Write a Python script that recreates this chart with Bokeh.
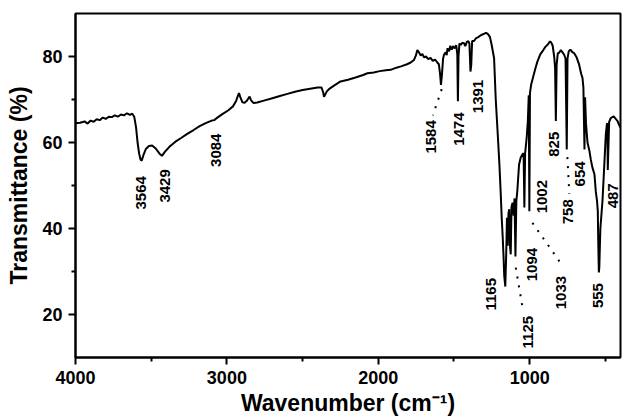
from bokeh.plotting import figure
from bokeh.models import Range1d, FixedTicker, ColumnDataSource
from bokeh.embed import file_html
from bokeh.resources import INLINE
from bokeh.core.properties import value
import math

# FTIR spectrum (wavenumber in cm-1, transmittance in %)
wavenumber = [
    4000, 3970, 3940, 3920, 3900, 3880, 3860, 3840, 3820, 3800, 3780, 3760, 3740, 3720,
    3700, 3680, 3660, 3640, 3625, 3612, 3600, 3590, 3580, 3570, 3562, 3550, 3535, 3515,
    3494, 3470, 3445, 3429, 3410, 3380, 3340, 3300, 3262, 3220, 3180, 3140, 3100, 3084,
    3070, 3030, 2990, 2960, 2940, 2928, 2920, 2912, 2898, 2885, 2868, 2850, 2840, 2825,
    2800, 2750, 2700, 2650, 2600, 2550, 2500, 2450, 2400, 2375, 2365, 2358, 2350, 2340,
    2326, 2290, 2249, 2200, 2150, 2100, 2072, 2030, 1990, 1950, 1918, 1880, 1850, 1810,
    1786, 1764, 1752, 1742, 1730, 1720, 1709, 1698, 1685, 1670, 1655, 1640, 1625, 1610,
    1600, 1592, 1586, 1580, 1572, 1566, 1555, 1548, 1543, 1532, 1524, 1515, 1505, 1495,
    1485, 1478, 1474, 1470, 1464, 1455, 1445, 1434, 1425, 1415, 1405, 1398, 1391, 1386,
    1380, 1367, 1356, 1340, 1320, 1300, 1288, 1275, 1262, 1250, 1235, 1224, 1211, 1200,
    1191, 1184, 1178, 1172, 1168, 1161, 1155, 1150, 1145, 1140, 1135, 1130, 1125, 1120,
    1113, 1106, 1100, 1094, 1088, 1081, 1070, 1059, 1048, 1040, 1035, 1030, 1020, 1012,
    1006, 1002, 998, 990, 975, 960, 949, 930, 910, 895, 880, 866, 858, 848, 838, 832,
    827, 822, 814, 806, 794, 784, 772, 763, 755, 750, 742, 735, 728, 718, 707, 690,
    673, 660, 651, 645, 638, 634, 628, 618, 605, 596, 585, 572, 563, 555, 550, 547,
    543, 540, 533, 519, 508, 497, 490, 487, 484, 475, 464, 445, 420, 400,
]
transmittance = [
    64.5, 64.6, 64.9, 64.4, 65.1, 64.8, 65.4, 65.2, 65.8, 65.5, 66.0, 65.9, 66.3, 66.0,
    66.5, 66.3, 66.8, 66.4, 66.7, 66.0, 63.5, 60.0, 57.5, 56.0, 55.8, 57.2, 58.5, 59.2,
    59.3, 58.6, 57.4, 56.9, 57.8, 59.0, 60.2, 61.1, 62.0, 62.9, 63.8, 64.5, 65.1, 65.2,
    65.6, 66.6, 67.5, 68.4, 69.6, 70.8, 71.5, 70.6, 69.4, 69.2, 69.7, 70.7, 69.8, 69.2,
    69.3, 69.8, 70.3, 70.8, 71.3, 71.8, 72.2, 72.5, 72.8, 72.8, 71.8, 70.6, 71.2, 71.9,
    72.4, 73.3, 74.2, 74.6, 75.1, 75.7, 76.1, 76.3, 76.6, 76.8, 76.9, 77.4, 77.7, 78.2,
    78.6, 79.2, 80.2, 81.5, 80.9, 80.2, 80.6, 79.8, 80.0, 79.4, 79.7, 79.0, 79.3, 78.6,
    78.2, 76.0, 73.4, 75.5, 79.5, 80.4, 81.0, 80.3, 81.9, 81.2, 82.5, 81.6, 82.4, 81.9,
    82.6, 80.5, 69.6, 80.0, 83.0, 82.7, 83.2, 83.1, 82.4, 83.4, 83.6, 83.0, 76.5, 78.0,
    83.6, 83.6, 84.2, 84.5, 85.0, 85.3, 85.5, 85.2, 84.5, 82.5, 79.6, 70.0, 62.0, 55.0,
    48.0, 42.0, 38.0, 33.0, 29.0, 26.5, 34.0, 42.5, 36.0, 43.5, 44.5, 36.0, 34.0, 45.0,
    46.0, 43.0, 47.0, 33.5, 46.4, 49.0, 54.9, 56.5, 57.2, 57.5, 44.9, 57.5, 61.0, 65.0,
    71.0, 44.0, 71.5, 73.5, 75.5, 77.5, 78.8, 80.5, 81.5, 82.3, 82.8, 83.5, 83.3, 82.5,
    80.0, 77.3, 65.0, 78.0, 80.8, 80.8, 81.5, 81.0, 80.4, 79.5, 58.4, 79.5, 81.2, 81.5,
    81.5, 81.0, 80.8, 79.8, 78.1, 76.0, 75.0, 72.7, 58.4, 70.5, 64.5, 60.0, 58.0, 56.0,
    54.1, 52.6, 48.5, 46.4, 44.1, 37.0, 29.8, 31.0, 40.0, 46.4, 54.1, 61.9, 64.2, 64.5,
    53.6, 64.8, 65.7, 66.1, 65.0, 63.4, 62.2,
]

# Peak annotations (text and the position of the label centre)
peak_text = ["3564", "3429", "3084", "1584", "1474", "1391", "825", "654",
             "1002", "758", "487", "1165", "1094", "1033", "555", "1125"]
peak_label_wn = [3570, 3412, 3075, 1654, 1469, 1343, 841, 669,
                 920, 748, 451, 1257, 986, 794, 550, 1013]
peak_label_t = [48.3, 49.9, 58.2, 61.3, 63.1, 70.7, 59.6, 52.7,
                47.4, 43.9, 47.6, 24.7, 31.6, 25.1, 24.4, 15.9]

# Dotted leader lines
leader_wn = [[1581, 1640], [1092, 1046], [982, 784], [751, 738]]
leader_t = [[72.4, 66.3], [30.9, 21.4], [41.3, 31.4], [56.6, 48.1]]

x_major = [4000, 3000, 2000, 1000]
x_minor = [3500, 2500, 1500, 500]
y_major = [20, 40, 60, 80]
y_minor = [30, 50, 70]

FONT = "Liberation Sans"

p = figure(
    width=623, height=419,
    x_range=Range1d(4000, 400), y_range=Range1d(10, 90),
    output_backend="svg", toolbar_location=None,
    min_border_left=75, min_border_right=3, min_border_top=13, min_border_bottom=62,
    background_fill_color="white", border_fill_color="white",
)
p.xgrid.visible = False
p.ygrid.visible = False
p.outline_line_color = "black"
p.outline_line_width = 2
p.outline_line_alpha = 1.0

p.xaxis.ticker = FixedTicker(ticks=x_major, minor_ticks=x_minor)
p.yaxis.ticker = FixedTicker(ticks=y_major, minor_ticks=y_minor)

for ax in (p.xaxis[0], p.yaxis[0]):
    ax.axis_line_width = 2
    ax.axis_line_color = "black"
    ax.major_tick_line_width = 2
    ax.minor_tick_line_width = 2
    ax.major_tick_out = 7
    ax.major_tick_in = 0
    ax.minor_tick_out = 4
    ax.minor_tick_in = 0
    ax.major_label_text_font = FONT
    ax.major_label_text_font_style = "bold"
    ax.major_label_text_font_size = "18px"
    ax.major_label_text_color = "black"
    ax.axis_label_text_font = FONT
    ax.axis_label_text_font_style = "bold"
    ax.axis_label_text_font_size = "23px"
    ax.axis_label_text_color = "black"

p.xaxis.axis_label = "Wavenumber (cm\u207b\u00b9)"
p.yaxis.axis_label = "Transmittance (%)"
p.xaxis.major_label_standoff = 6
p.xaxis.axis_label_standoff = 3
p.yaxis.major_label_standoff = 6
p.yaxis.axis_label_standoff = 7

p.line(wavenumber, transmittance, line_color="black", line_width=2)

p.multi_line(leader_wn, leader_t, line_color="black", line_width=2, line_dash="2 7")

src = ColumnDataSource(dict(x=peak_label_wn, y=peak_label_t, t=peak_text))
p.text(x="x", y="y", text="t", source=src, angle=math.pi / 2,
       text_align="center", text_baseline="middle",
       text_font=value(FONT), text_font_style="bold", text_font_size="15px",
       text_color="black")

open("out.html", "w").write(file_html(p, INLINE))
